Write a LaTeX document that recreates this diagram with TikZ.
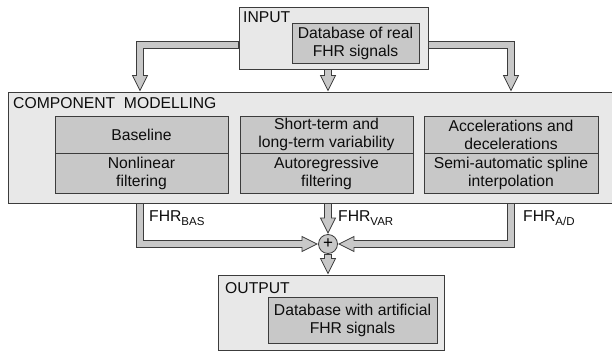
\documentclass[tikz,border=0pt]{standalone}
\usepackage{fontspec}
\setmainfont{Liberation Sans}
\usetikzlibrary{shapes.geometric}
\definecolor{bord}{HTML}{3C3C3C}
\definecolor{lite}{HTML}{E8E8E8}
\definecolor{mid}{HTML}{C8C8C8}
\pgfdeclarelayer{pipeback}
\pgfdeclarelayer{pipefront}
\pgfsetlayers{pipeback,main,pipefront}
\newcommand\pipepath[1]{%
  \begin{pgfonlayer}{pipeback}\draw[pipeO] #1;\end{pgfonlayer}%
  \begin{pgfonlayer}{pipefront}\draw[pipeI] #1;\end{pgfonlayer}}
\begin{document}
\begin{tikzpicture}[x=1pt,y=-1pt,
  txt/.style={font=\fontsize{15.7pt}{18pt}\selectfont, text=black!95},
  outerbox/.style={draw=bord, fill=lite, line width=0.9pt, inner sep=0pt},
  innerbox/.style={draw=bord, fill=mid, line width=0.8pt, inner sep=0pt, align=center, txt},
  title/.style={txt, inner sep=0pt, anchor=base west},
  head/.style={isosceles triangle, isosceles triangle stretches, minimum width=15pt, minimum height=15pt, inner sep=0pt, draw=bord, fill=mid, line width=0.8pt, anchor=apex},
  pipeO/.style={draw=bord, line width=7.4pt, line join=miter, shorten >=-2pt},
  pipeI/.style={draw=mid, line width=5.6pt, line join=miter, shorten >=-1.6pt, shorten <=0.6pt},
  sum/.style={circle, draw=bord, fill=mid, line width=0.8pt, minimum size=19pt, inner sep=0pt, font=\fontsize{17pt}{18pt}\selectfont},
  lab/.style={txt, inner sep=0pt, anchor=base west}
]
\useasboundingbox (0,0) rectangle (612,351);

% INPUT
\node[outerbox, minimum width=189pt, minimum height=62pt] (input) at (333.5,38) {};
\node[title] (inT) at (243,22) {INPUT};
\node[innerbox, minimum width=127pt, minimum height=40pt] (inDB) at (355.5,43) {Database of real\\FHR signals};

% COMPONENT MODELLING
\node[outerbox, minimum width=604pt, minimum height=111pt] (comp) at (310,147.5) {};
\node[title] (compT) at (13,108) {COMPONENT\ \ MODELLING};
\node[innerbox, minimum width=173pt, minimum height=37pt] (b1) at (141.5,134.5) {Baseline};
\node[innerbox, minimum width=173pt, minimum height=40pt] (b2) at (141.5,173) {Nonlinear\\filtering};
\node[innerbox, minimum width=173pt, minimum height=37pt] (v1) at (326.5,134.5) {Short-term and\\long-term variability};
\node[innerbox, minimum width=173pt, minimum height=40pt] (v2) at (326.5,173) {Autoregressive\\filtering};
\node[innerbox, minimum width=174pt, minimum height=37pt] (a1) at (511,134.5) {Accelerations and\\decelerations};
\node[innerbox, minimum width=174pt, minimum height=40pt] (a2) at (511,173) {Semi-automatic spline\\interpolation};

% sum
\node[sum] (plus) at (328,244) {+};

% OUTPUT
\node[outerbox, minimum width=226pt, minimum height=75pt] (out) at (331,312.5) {};
\node[title] (outT) at (225,293) {OUTPUT};
\node[innerbox, minimum width=169pt, minimum height=46pt] (outDB) at (352.5,320) {Database with artificial\\FHR signals};

% labels
\node[lab] (lBAS) at (149,221) {FHR\raisebox{-4pt}{\fontsize{11.5pt}{12pt}\selectfont BAS}};
\node[lab] (lVAR) at (338,221) {FHR\raisebox{-4pt}{\fontsize{11.5pt}{12pt}\selectfont VAR}};
\node[lab] (lAD) at (523,221) {FHR\raisebox{-4pt}{\fontsize{11.5pt}{12pt}\selectfont A/D}};

% arrow heads
\node[head, rotate=-90] (hL) at (140,0 |- comp.north) {};
\node[head, rotate=-90] (hM) at (plus |- comp.north) {};
\node[head, rotate=-90] (hR) at (511,0 |- comp.north) {};
\node[head, rotate=-90] (hV) at (plus.north) {};
\node[head] (hB) at (plus.west) {};
\node[head, rotate=180] (hA) at (plus.east) {};
\node[head, rotate=-90] (hO) at (plus |- out.north) {};

\coordinate (inL) at ([yshift=-7pt]input.west);
\coordinate (inR) at ([yshift=-7pt]input.east);
\coordinate (cBAS) at (140,0 |- comp.south);
\coordinate (cAD) at (511,0 |- comp.south);

% pipes
\pipepath{(inL) -| (hL.lower side)}
\pipepath{(plus |- input.south) -- (hM.lower side)}
\pipepath{(inR) -| (hR.lower side)}
\pipepath{(cBAS) |- (hB.lower side)}
\pipepath{(plus |- comp.south) -- (hV.lower side)}
\pipepath{(cAD) |- (hA.lower side)}
\pipepath{(plus.south) -- (hO.lower side)}
\end{tikzpicture}
\end{document}
